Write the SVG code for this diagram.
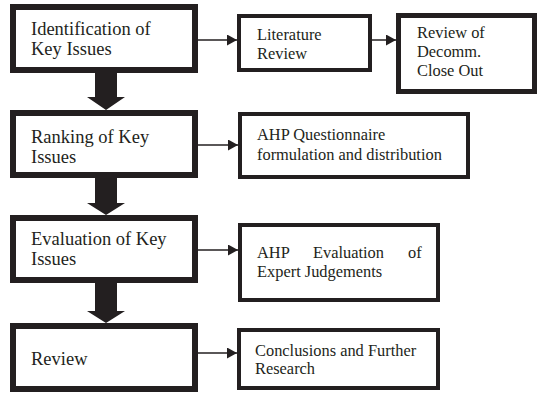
<svg xmlns="http://www.w3.org/2000/svg" width="540" height="393" viewBox="0 0 540 393">
<defs>
<style>
.main{fill:#fff;stroke:#231f20;stroke-width:6}
.side{fill:#fff;stroke:#231f20;stroke-width:4}
text{font-family:'Liberation Serif','Times New Roman',serif;fill:#231f20}
.big{font-size:18.5px}
.sm{font-size:16.4px}
.con{stroke:#231f20;stroke-width:1.5;fill:none}
.thick{fill:#231f20}
</style>
<marker id="ah" markerWidth="10" markerHeight="11" refX="10" refY="5.5" orient="auto" markerUnits="userSpaceOnUse">
<path d="M0,0 L10,5.5 L0,11 Z" fill="#231f20"/>
</marker>
</defs>
<rect width="540" height="393" fill="#fff"/>
<g id="connectors">
<line class="con" x1="198" y1="40" x2="237" y2="40" marker-end="url(#ah)"/>
<line class="con" x1="372" y1="40" x2="396" y2="40" marker-end="url(#ah)"/>
<line class="con" x1="198" y1="145" x2="238" y2="145" marker-end="url(#ah)"/>
<line class="con" x1="198" y1="250" x2="238" y2="250" marker-end="url(#ah)"/>
<line class="con" x1="198" y1="353" x2="237" y2="353" marker-end="url(#ah)"/>
<path class="thick" d="M95,72 H117 V97 H125 L106,110 L87,97 H95 Z"/>
<path class="thick" d="M95,177 H117 V203 H125 L106,215 L87,203 H95 Z"/>
<path class="thick" d="M95,282 H117 V311 H125 L106,323 L87,311 H95 Z"/>
</g>
<g id="n1">
<rect class="main" x="13" y="7" width="182" height="63"/>
<text class="big" x="31" y="35">Identification of</text>
<text class="big" x="31" y="55">Key Issues</text>
</g>
<g id="n2">
<rect class="side" x="239" y="16" width="131" height="54"/>
<text class="sm" x="257" y="40">Literature</text>
<text class="sm" x="257" y="59">Review</text>
</g>
<g id="n3">
<rect class="side" style="stroke-width:5" x="398.5" y="15.5" width="136" height="76"/>
<text class="sm" x="417" y="38">Review of</text>
<text class="sm" x="417" y="57">Decomm.</text>
<text class="sm" x="417" y="76">Close Out</text>
</g>
<g id="n4">
<rect class="main" x="13" y="113" width="182" height="62"/>
<text class="big" x="31" y="143">Ranking of Key</text>
<text class="big" x="31" y="163">Issues</text>
</g>
<g id="n5">
<rect class="side" x="240" y="114" width="228" height="63"/>
<text class="sm" x="257" y="140">AHP Questionnaire</text>
<text class="sm" x="257" y="160">formulation and distribution</text>
</g>
<g id="n6">
<rect class="main" x="13" y="218" width="182" height="62"/>
<text class="big" x="31" y="245">Evaluation of Key</text>
<text class="big" x="31" y="265">Issues</text>
</g>
<g id="n7">
<rect class="main" x="13" y="326" width="182" height="63"/>
<text class="big" x="31" y="365">Review</text>
</g>
<g id="n8">
<rect class="side" x="240" y="225" width="198" height="75"/>
<text class="sm" x="257" y="258">AHP</text>
<text class="sm" x="313" y="258">Evaluation</text>
<text class="sm" x="408" y="258">of</text>
<text class="sm" x="257" y="277">Expert Judgements</text>
</g>
<g id="n9">
<rect class="side" x="239" y="330" width="199" height="58"/>
<text class="sm" x="255" y="356">Conclusions and Further</text>
<text class="sm" x="255" y="374">Research</text>
</g>
</svg>
